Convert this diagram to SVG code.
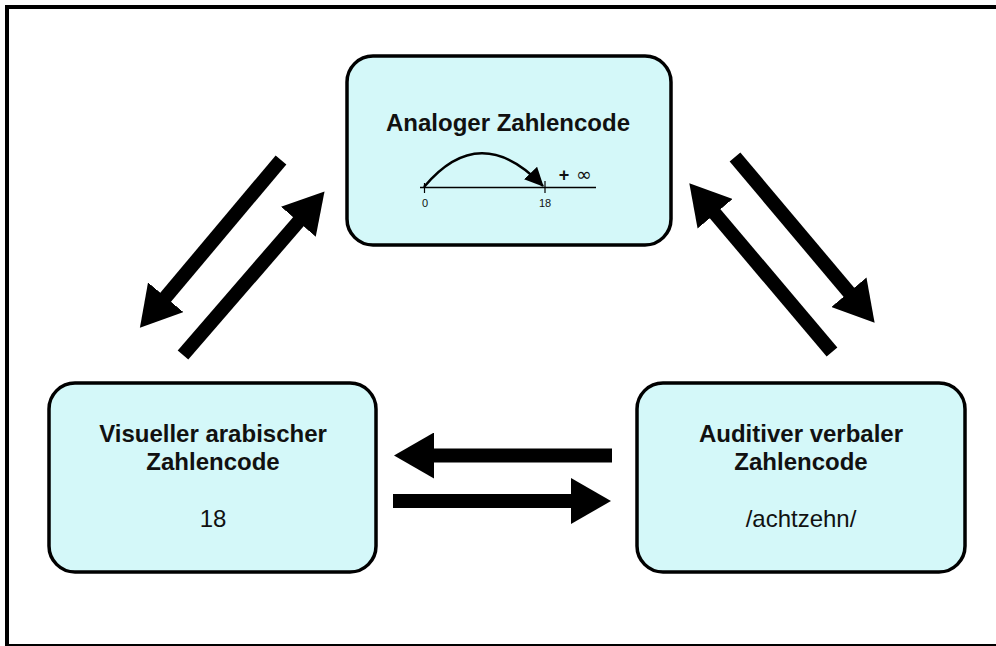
<svg xmlns="http://www.w3.org/2000/svg" width="996" height="646" viewBox="0 0 996 646">
<defs>
<style>
.node{fill:#d4f8f9;stroke:#000;stroke-width:3.5}
.t{font-family:"Liberation Sans",Arial,sans-serif;fill:#111;text-anchor:middle}
.b{font-weight:bold;font-size:24px}
.r{font-size:24px}
.s{font-size:11px}
.big{stroke:#000;stroke-width:14;fill:none;marker-end:url(#bigHead)}
</style>
<marker id="bigHead" markerUnits="userSpaceOnUse" markerWidth="42" markerHeight="46" refX="1" refY="23" orient="auto" viewBox="0 0 42 46">
<path d="M0,0 L40,23 L0,46 z" fill="#000"/>
</marker>
<marker id="smallHead" markerUnits="userSpaceOnUse" markerWidth="20" markerHeight="18" refX="18" refY="9" orient="auto" viewBox="0 0 20 18">
<path d="M0,0 L19,9 L0,18 z" fill="#000"/>
</marker>
</defs>
<rect x="0" y="0" width="996" height="646" fill="#fff"/>
<rect x="7" y="7" width="1000" height="639" fill="none" stroke="#000" stroke-width="4"/>

<g id="node-analog">
<rect class="node" x="347" y="56" width="324" height="189" rx="26"/>
<text class="t b" x="508" y="131">Analoger Zahlencode</text>
<line x1="420" y1="187.5" x2="596" y2="187.5" stroke="#000" stroke-width="1.5"/>
<line x1="424.5" y1="183" x2="424.5" y2="193" stroke="#000" stroke-width="1.2"/>
<line x1="545" y1="181" x2="545" y2="193" stroke="#000" stroke-width="1.2"/>
<path d="M424,187 Q480,120 543,186" fill="none" stroke="#000" stroke-width="2.5" marker-end="url(#smallHead)"/>
<text class="t s" x="425" y="207">0</text>
<text class="t s" x="545" y="207">18</text>
<text x="564" y="181" font-family="'Liberation Sans',Arial,sans-serif" font-size="18" font-weight="bold" fill="#111" text-anchor="middle">+</text>
<text x="584" y="181" font-family="'DejaVu Sans',sans-serif" font-size="19" fill="#111" text-anchor="middle">∞</text>
</g>

<g id="node-visual">
<rect class="node" x="49" y="383" width="327" height="189" rx="26"/>
<text class="t b" x="213" y="442">Visueller arabischer</text>
<text class="t b" x="213" y="470">Zahlencode</text>
<text class="t r" x="213" y="527">18</text>
</g>

<g id="node-auditiv">
<rect class="node" x="637" y="383" width="328" height="189" rx="26"/>
<text class="t b" x="801" y="442">Auditiver verbaler</text>
<text class="t b" x="801" y="470">Zahlencode</text>
<text class="t r" x="801" y="527">/achtzehn/</text>
</g>

<g id="connectors">
<line class="big" x1="281" y1="160" x2="165" y2="298"/>
<line class="big" x1="183" y1="355" x2="299" y2="221"/>
<line class="big" x1="735" y1="157" x2="849.5" y2="293"/>
<line class="big" x1="832" y1="352" x2="714.5" y2="213"/>
<line class="big" x1="612" y1="455.5" x2="433" y2="455.5"/>
<line class="big" x1="393" y1="501" x2="572" y2="501"/>
</g>
</svg>
